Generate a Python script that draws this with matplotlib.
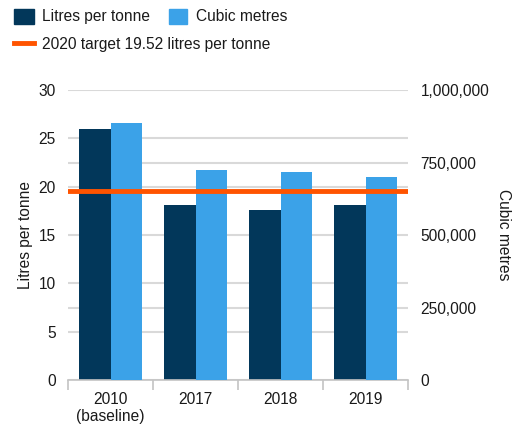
import matplotlib.pyplot as plt
from matplotlib.patches import Rectangle
from matplotlib.lines import Line2D
from matplotlib.ticker import FuncFormatter
from matplotlib.transforms import blended_transform_factory

# data
years = ["2010\n(baseline)", "2017", "2018", "2019"]
litres_per_tonne = [26.0, 18.1, 17.6, 18.1]
cubic_metres = [886000, 724000, 717000, 700000]
target = 19.52

left_ticks = [0, 5, 10, 15, 20, 25, 30]
right_ticks = [0, 250000, 500000, 750000, 1000000]

# colours
DARK = "#02375a"
LIGHT = "#3ba2e8"
ORANGE = "#ff5400"
GRID = "#d9d9d9"
TEXT = "#1a1a1a"
FS = 11.2

plt.rcParams['font.family'] = ['Liberation Sans', 'DejaVu Sans']

fig = plt.figure(figsize=(5.14, 4.25), dpi=100)
ax = fig.add_axes([68 / 514, 1 - 380 / 425, 340 / 514, 290 / 425])
ax2 = ax.twinx()

x = list(range(len(years)))
w = 0.365

ax.set_ylim(0, left_ticks[-1])
ax2.set_ylim(0, right_ticks[-1])
ax.set_xlim(-0.5, len(years) - 0.5)

# gridlines on the left axis, including the right-axis tick positions
ax.set_yticks(left_ticks)
ax.set_yticks([t / right_ticks[-1] * left_ticks[-1] for t in right_ticks[1:-1]], minor=True)
ax.yaxis.grid(True, which='both', color=GRID, lw=1.5)
ax.set_axisbelow(True)

ax.bar([i - w / 2 for i in x], litres_per_tonne, width=w, color=DARK, zorder=2)
ax2.bar([i + w / 2 for i in x], cubic_metres, width=w, color=LIGHT, zorder=2)

# target line across the plot
tr = blended_transform_factory(ax2.transAxes, ax.transData)
ax2.add_line(Line2D([0, 1], [target, target], transform=tr, color=ORANGE, lw=3.5, zorder=3))

# x axis: boundary ticks, centred labels
ax.set_xticks([i - 0.5 for i in range(len(years) + 1)])
ax.set_xticklabels([])
ax.set_xticks(x, minor=True)
ax.set_xticklabels(years, minor=True, color=TEXT, fontsize=FS, linespacing=1.15)
ax.tick_params(axis='x', which='major', length=7, color="#c4c4c4", width=1.2)
ax.tick_params(axis='x', which='minor', length=0, pad=9)

ax.tick_params(axis='y', which='both', length=0, pad=9, labelcolor=TEXT, labelsize=FS)
ax2.set_yticks(right_ticks)
ax2.yaxis.set_major_formatter(FuncFormatter(lambda v, p: f"{int(v):,}"))
ax2.tick_params(axis='y', length=0, pad=9, labelcolor=TEXT, labelsize=FS)

for a in (ax, ax2):
    for s in a.spines.values():
        s.set_visible(False)
ax.spines['bottom'].set_visible(True)
ax.spines['bottom'].set_color("#c4c4c4")
ax.spines['bottom'].set_linewidth(1.2)

ax.set_ylabel("Litres per tonne", color=TEXT, fontsize=FS, labelpad=4)
ax2.set_ylabel("Cubic metres", color=TEXT, fontsize=FS, rotation=270, labelpad=16)

# legend drawn at the top of the figure
def px(xp, yp):
    return xp / 514, 1 - yp / 425

fig.patches.append(Rectangle(px(14, 24), 20 / 514, 15 / 425, transform=fig.transFigure, color=DARK))
fig.text(*px(42, 16.5), "Litres per tonne", va='center', ha='left', color=TEXT, fontsize=FS)
fig.patches.append(Rectangle(px(169, 24), 18 / 514, 15 / 425, transform=fig.transFigure, color=LIGHT))
fig.text(*px(196, 16.5), "Cubic metres", va='center', ha='left', color=TEXT, fontsize=FS)
fig.lines.append(Line2D([14 / 514, 34 / 514], [1 - 43 / 425] * 2, transform=fig.transFigure,
                        color=ORANGE, lw=3.5))
fig.text(*px(42, 44), "2020 target 19.52 litres per tonne", va='center', ha='left',
         color=TEXT, fontsize=FS)

fig.savefig("out.png", dpi=100)
